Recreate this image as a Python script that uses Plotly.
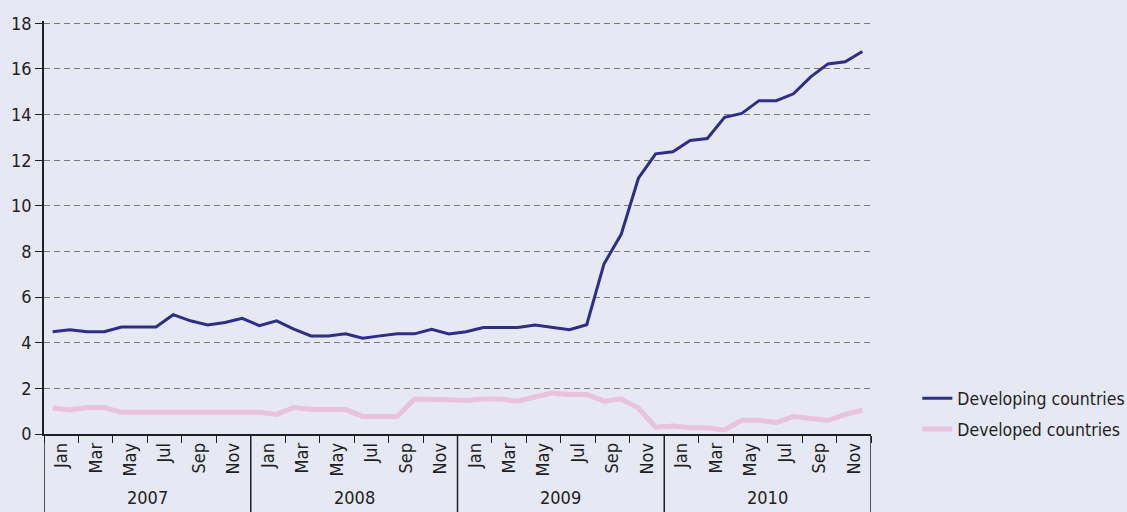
import plotly.graph_objects as go

years = ["2007", "2008", "2009", "2010"]
months = ["Jan", "Feb", "Mar", "Apr", "May", "Jun", "Jul", "Aug", "Sep", "Oct", "Nov", "Dec"]

developing = [
    4.48, 4.57, 4.48, 4.48, 4.69, 4.69, 4.69, 5.23, 4.96, 4.78, 4.89, 5.07,
    4.75, 4.96, 4.60, 4.30, 4.30, 4.39, 4.20, 4.30, 4.39, 4.39, 4.59, 4.38,
    4.48, 4.67, 4.67, 4.67, 4.78, 4.67, 4.57, 4.79, 7.45, 8.75, 11.21, 12.28,
    12.37, 12.86, 12.95, 13.88, 14.05, 14.61, 14.61, 14.91, 15.65, 16.22, 16.31, 16.76,
]
developed = [
    1.14, 1.05, 1.16, 1.16, 0.95, 0.95, 0.95, 0.95, 0.95, 0.95, 0.95, 0.95,
    0.95, 0.86, 1.16, 1.07, 1.07, 1.07, 0.77, 0.77, 0.77, 1.53, 1.53, 1.50,
    1.47, 1.53, 1.53, 1.44, 1.62, 1.80, 1.73, 1.73, 1.44, 1.53, 1.14, 0.30,
    0.35, 0.27, 0.27, 0.18, 0.60, 0.60, 0.50, 0.77, 0.68, 0.59, 0.86, 1.04,
]

FONT = "Liberation Sans Narrow, DejaVu Sans Condensed, Arial Narrow, sans-serif"
INK = "#231F20"
BG = "#E6E8F4"

n = len(developing)
xpos = [i + 0.5 for i in range(n)]

fig = go.Figure()
fig.add_trace(go.Scatter(
    x=xpos, y=developing, mode="lines", name="Developing countries",
    legendgroup="dev", line=dict(color="#2D2E86", width=3),
))
fig.add_trace(go.Scatter(
    x=xpos, y=developed, mode="lines", name="Developed countries",
    legendgroup="ded", line=dict(color="#E9C2DE", width=5),
))

# month labels every second month, centred on the two-month span
label_vals = list(range(1, n, 2))
label_text = [months[(v - 1) % 12] for v in label_vals]

fig.update_xaxes(
    range=[0, n], tickvals=label_vals, ticktext=label_text, tickangle=-90,
    ticks="", showgrid=False, zeroline=False,
    showline=True, linecolor=INK, linewidth=1.5,
    tickfont=dict(family=FONT, size=18, color=INK),
    minor=dict(tickmode="linear", tick0=0, dtick=2, ticks="outside",
               ticklen=7, tickcolor=INK, tickwidth=1.3, showgrid=False),
)
fig.update_yaxes(
    range=[0, 18.1], tickvals=list(range(0, 19, 2)), ticks="outside", ticklen=7,
    tickcolor=INK, tickwidth=1.3,
    showline=True, linecolor=INK, linewidth=1.5,
    showgrid=True, gridcolor="#7A7A7A", griddash="6px,4px", gridwidth=1,
    zeroline=False,
    tickfont=dict(family=FONT, size=18, color=INK),
)

# year group separators and labels below the axis
for k, yr in enumerate(years):
    fig.add_annotation(
        x=k * 12 + 6, y=-0.153, xref="x", yref="paper", text=yr, showarrow=False,
        font=dict(family=FONT, size=18, color=INK), yanchor="middle",
    )
for k in range(len(years) + 1):
    fig.add_shape(
        type="line", xref="x", yref="paper", x0=k * 12, x1=k * 12, y0=0, y1=-0.2,
        line=dict(color=INK, width=1.5),
    )

fig.update_layout(
    width=1127, height=512,
    margin=dict(l=44, r=256, t=21, b=78, autoexpand=False),
    paper_bgcolor=BG, plot_bgcolor=BG,
    showlegend=True,
    legend=dict(
        x=1.056, y=0.13, xanchor="left", yanchor="top",
        bgcolor="rgba(0,0,0,0)", itemwidth=30, tracegroupgap=5,
        traceorder="grouped",
        font=dict(family=FONT, size=17.5, color=INK),
    ),
)

fig.write_html(
    "out.html",
    config={"displayModeBar": False},
    post_script="document.body.style.margin='0';document.body.style.background='%s';" % BG,
)
